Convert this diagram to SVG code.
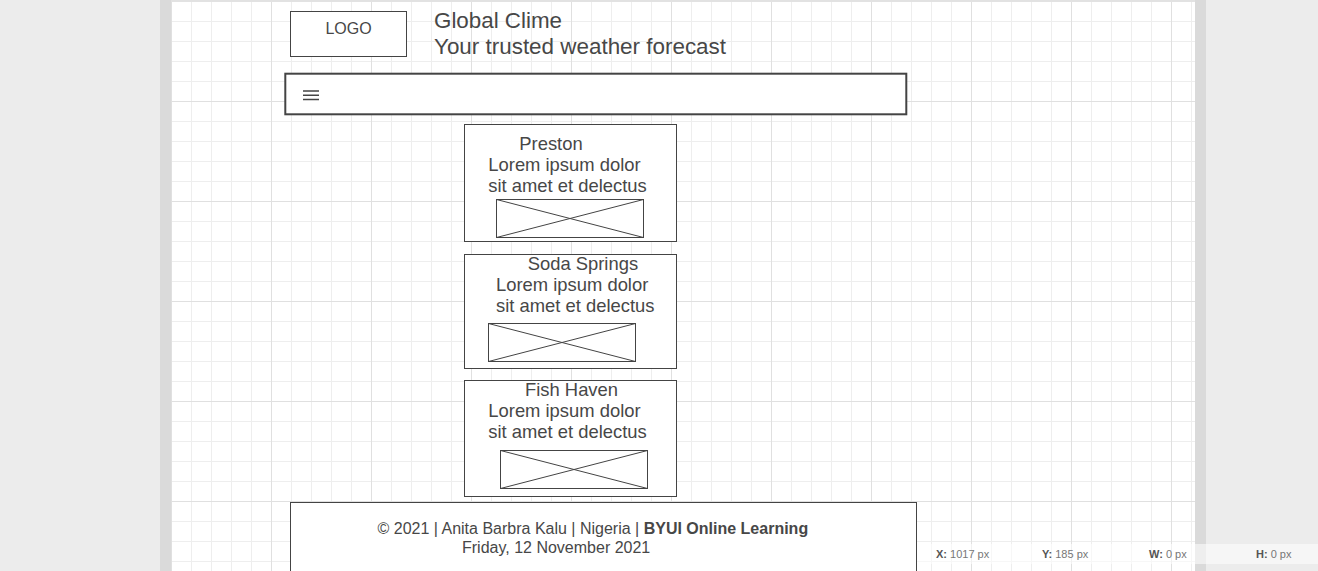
<svg xmlns="http://www.w3.org/2000/svg" width="1318" height="571" viewBox="0 0 1318 571">
<style>
.t{font-family:"Liberation Sans",Arial,sans-serif;fill:#474747;}
.c{font-size:18.4px;}
.box{fill:#fff;stroke:#444;stroke-width:1;}
.img{fill:#fff;stroke:#444;stroke-width:1;}
.x{stroke:#444;stroke-width:1;fill:none;}
.st{font-family:"Liberation Sans",Arial,sans-serif;font-size:11px;fill:#777;}
.st tspan.b{font-weight:bold;fill:#555;}
</style>
<defs>
<pattern id="grid" patternUnits="userSpaceOnUse" x="171" y="1" width="100" height="100">
<path d="M20.5 0V100M40.5 0V100M60.5 0V100M80.5 0V100M0 20.5H100M0 40.5H100M0 60.5H100M0 80.5H100" stroke="#eeeeee" stroke-width="1" fill="none"/>
<path d="M0.5 0V100M0 0.5H100" stroke="#e0e0e0" stroke-width="1" fill="none"/>
</pattern>
</defs>
<rect x="0" y="0" width="1318" height="571" fill="#ececec"/>
<rect x="160" y="0" width="11" height="571" fill="#dadada"/>
<rect x="1195" y="0" width="11" height="571" fill="#dadada"/>
<rect x="171" y="0" width="1024" height="2" fill="#e2e2e2"/>
<rect x="171" y="2" width="1024" height="569" fill="#fff"/>
<rect x="171" y="2" width="1024" height="569" fill="url(#grid)"/>

<g id="logo">
<rect class="box" x="290.5" y="11.5" width="116" height="45"/>
<text class="t" x="348.5" y="34.3" font-size="16" text-anchor="middle">LOGO</text>
</g>
<g id="title">
<text class="t" x="434" y="27.5" font-size="22.3" textLength="128" lengthAdjust="spacingAndGlyphs">Global Clime</text>
<text class="t" x="434" y="54" font-size="22.3" textLength="292" lengthAdjust="spacingAndGlyphs">Your trusted weather forecast</text>
</g>
<g id="nav">
<rect x="285.3" y="73.7" width="621" height="40.6" fill="#fff" stroke="#444" stroke-width="2"/>
<path d="M303 91H319M303 95.3H319M303 99.6H319" stroke="#444" stroke-width="1.5" fill="none"/>
</g>

<g id="card-preston">
<rect class="box" x="464.5" y="124.5" width="212" height="117"/>
<text class="t c" x="519.3" y="150">Preston</text>
<text class="t c" x="488.3" y="171">Lorem ipsum dolor</text>
<text class="t c" x="488.3" y="192">sit amet et delectus</text>
<rect class="img" x="496.5" y="199.5" width="147" height="38"/>
<path class="x" d="M496.5 199.5L643.5 237.5M496.5 237.5L643.5 199.5"/>
</g>
<g id="card-soda">
<rect class="box" x="464.5" y="254.5" width="212" height="114"/>
<text class="t c" x="527.7" y="270">Soda Springs</text>
<text class="t c" x="496" y="291">Lorem ipsum dolor</text>
<text class="t c" x="496" y="312">sit amet et delectus</text>
<rect class="img" x="488.5" y="323.5" width="147" height="38"/>
<path class="x" d="M488.5 323.5L635.5 361.5M488.5 361.5L635.5 323.5"/>
</g>
<g id="card-fish">
<rect class="box" x="464.5" y="380.5" width="212" height="116"/>
<text class="t c" x="525" y="396">Fish Haven</text>
<text class="t c" x="488.3" y="417">Lorem ipsum dolor</text>
<text class="t c" x="488.3" y="438">sit amet et delectus</text>
<rect class="img" x="500.5" y="450.5" width="147" height="38"/>
<path class="x" d="M500.5 450.5L647.5 488.5M500.5 488.5L647.5 450.5"/>
</g>

<g id="footer">
<rect class="box" x="290.5" y="502.5" width="626" height="80"/>
<text class="t" x="377.5" y="534" font-size="16">© 2021 | Anita Barbra Kalu | Nigeria | <tspan font-weight="bold">BYUI Online Learning</tspan></text>
<text class="t" x="462" y="553" font-size="16">Friday, 12 November 2021</text>
</g>

<g id="connectors"/>

<g id="statusbar">
<rect x="917" y="544" width="401" height="20" fill="#fff" fill-opacity="0.55"/>
<text class="st" x="936" y="558"><tspan class="b">X:</tspan> 1017 px</text>
<text class="st" x="1042" y="558"><tspan class="b">Y:</tspan> 185 px</text>
<text class="st" x="1149" y="558"><tspan class="b">W:</tspan> 0 px</text>
<text class="st" x="1256" y="558"><tspan class="b">H:</tspan> 0 px</text>
</g>
</svg>
